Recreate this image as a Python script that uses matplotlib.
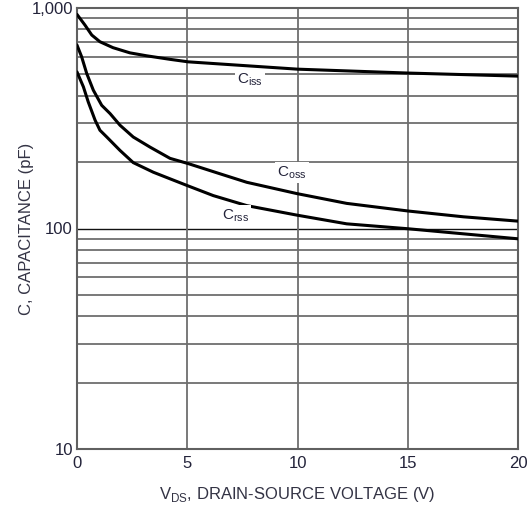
import matplotlib
matplotlib.use("Agg")
import matplotlib.pyplot as plt
from matplotlib.ticker import FixedLocator, NullFormatter

plt.rcParams['font.family'] = ['Liberation Sans', 'DejaVu Sans']
plt.rcParams['mathtext.fontset'] = 'custom'
plt.rcParams['mathtext.rm'] = 'Liberation Sans'

# Data
vds_iss = [0, 0.36, 0.67, 1.04, 1.63, 2.4, 3.16, 4.22, 5.04, 7, 10, 15, 20]
ciss = [935, 837, 754, 703, 661, 626, 607, 585, 570, 553, 528, 507, 491]

vds_oss = [0, 0.21, 0.44, 0.74, 1.12, 1.5, 1.95, 2.55, 3.31, 4.22, 5.04,
           6.49, 7.7, 9.97, 12.23, 15.03, 17.52, 20]
coss = [679, 601, 505, 424, 362, 332, 294, 260, 234, 208, 197,
        177, 162, 144, 130, 120, 113, 108]

vds_rss = [0, 0.29, 0.51, 0.82, 1.04, 1.35, 1.95, 2.55, 3.46, 4.22, 5.04,
           6.18, 7.7, 9.97, 12.23, 15.03, 17.52, 20]
crss = [513, 439, 375, 310, 279, 260, 226, 199, 180, 168, 156,
        141, 127, 115, 105, 99.7, 94.6, 89.8]

x_ticks = [0, 5, 10, 15, 20]
y_ticks = [10, 100, 1000]
y_tick_labels = ["10", "100", "1,000"]
y_minor = [20, 30, 40, 50, 60, 70, 80, 90, 200, 300, 400, 500, 600, 700, 800, 900]

text_color = '#23233a'

fig = plt.figure(figsize=(5.29, 5.12), dpi=100)
ax = fig.add_axes([77 / 529, 63 / 512, (518 - 77) / 529, (449 - 8) / 512])
ax.set_yscale('log')
ax.set_xlim(0, 20)
ax.set_ylim(10, 1000)

# grid
for v in y_minor:
    ax.axhline(v, color='#6e6e6e', lw=1.3, zorder=1)
ax.axhline(100, color='#111111', lw=1.0, zorder=1)
for v in x_ticks[1:]:
    ax.axvline(v, color='#6e6e6e', lw=1.3, zorder=1)

for s in ax.spines.values():
    s.set_color('#606060')
    s.set_linewidth(1.5)

ax.plot(vds_iss, ciss, color='black', lw=2.2, zorder=3, solid_capstyle='round', solid_joinstyle='round')
ax.plot(vds_oss, coss, color='black', lw=2.2, zorder=3, solid_capstyle='round', solid_joinstyle='round')
ax.plot(vds_rss, crss, color='black', lw=2.2, zorder=3, solid_capstyle='round', solid_joinstyle='round')

ax.yaxis.set_major_locator(FixedLocator(y_ticks))
ax.yaxis.set_minor_locator(FixedLocator(y_minor))
ax.yaxis.set_minor_formatter(NullFormatter())
ax.set_yticks(y_ticks)
ax.set_yticklabels(y_tick_labels)
ax.set_xticks(x_ticks)
ax.set_xticklabels([str(v) for v in x_ticks])
ax.tick_params(axis='both', which='both', length=0, labelsize=12, colors=text_color, pad=3)
ax.tick_params(axis='x', pad=5)

ax.set_xlabel(r'V$_{\rm DS}$, DRAIN-SOURCE VOLTAGE (V)', fontsize=12, color='#333344', labelpad=10)
ax.set_ylabel('C, CAPACITANCE (pF)', fontsize=12, color='#333344')
ax.yaxis.set_label_coords((34 - 77) / 441, 0.5)

bbox = dict(facecolor='white', edgecolor='none', pad=1.5)
ax.text(7.85, 471, r'C$_{\rm iss}$', fontsize=11, color=text_color, ha='center', va='center', bbox=bbox, zorder=4)
ax.text(9.74, 180, r'C$_{\rm oss}$', fontsize=11, color=text_color, ha='center', va='center', bbox=bbox, zorder=4)
ax.text(7.17, 114, r'C$_{\rm rss}$', fontsize=11, color=text_color, ha='center', va='center', bbox=bbox, zorder=4)

fig.savefig('out.png', dpi=100, facecolor='white')
